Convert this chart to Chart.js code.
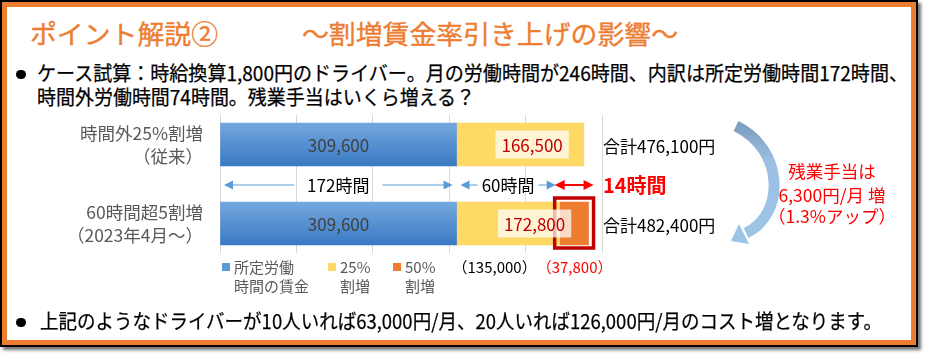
<!DOCTYPE html>
<html lang="ja">
<head>
<meta charset="utf-8">
<script src="https://cdn.jsdelivr.net/npm/chart.js@4.4.0/dist/chart.umd.min.js"></script>
<style>
  html, body { margin: 0; padding: 0; background: #fff; }
  body {
    width: 927px; height: 359px; position: relative; overflow: hidden;
    font-family: "Noto Sans CJK JP", sans-serif;
  }
  .frame {
    position: absolute; left: 0; top: 0; width: 918px; height: 347px;
    box-sizing: border-box; border: 2px solid #000;
    box-shadow: 3px 3px 3px rgba(0, 0, 0, 0.55);
  }
  .frame-in { position: absolute; inset: 0; border: 5px solid #ed7d31; }
  #chart { position: absolute; left: 0; top: 0; }
  .txt { position: absolute; white-space: nowrap; line-height: 1; transform-origin: left center; }
  .title { font-size: 26px; color: #ed7d31; -webkit-text-stroke: 0.35px #ed7d31; }
  .body { font-size: 20px; color: #000; -webkit-text-stroke: 0.25px #000; }
  .note { font-size: 17.5px; color: #ff0000; left: 752px; width: 160px; text-align: center; }
  .dot { position: absolute; width: 9.5px; height: 9.5px; border-radius: 50%; background: #000; }
  svg { position: absolute; left: 0; top: 0; }
</style>
</head>
<body>
<div class="frame"><div class="frame-in"></div></div>

<div class="txt title fit" data-w="188" style="left:30px;top:19.5px">ポイント解説②</div>
<div class="txt title fit" data-w="376" style="left:302px;top:19.5px">～割増賃金率引き上げの影響～</div>

<div class="dot" style="left:16px;top:69.5px"></div>
<div class="txt body fit" data-w="871" style="left:37px;top:63px">ケース試算：時給換算1,800円のドライバー。月の労働時間が246時間、内訳は所定労働時間172時間、</div>
<div class="txt body fit" data-w="438" style="left:37px;top:87px">時間外労働時間74時間。残業手当はいくら増える？</div>

<canvas id="chart" width="927" height="359"></canvas>

<svg width="927" height="359">
  <defs>
    <linearGradient id="curveGrad" x1="0" y1="0" x2="0" y2="1">
      <stop offset="0" stop-color="#7f9fbf"/>
      <stop offset="0.35" stop-color="#9dc0e4"/>
      <stop offset="1" stop-color="#9dc3e6"/>
    </linearGradient>
  </defs>
  <path d="M 736 126 C 785 150, 785 215, 746 233" stroke="url(#curveGrad)" stroke-width="11" fill="none"/>
  <polygon points="731,241 749,244 739,224" fill="#9dc3e6"/>
</svg>

<div class="txt note" style="top:162.3px">残業手当は</div>
<div class="txt note" style="top:186.3px">6,300円/月 増</div>
<div class="txt note" style="top:207.3px">（1.3%アップ）</div>

<div class="dot" style="left:16px;top:317.5px"></div>
<div class="txt body fit" data-w="842" style="left:40px;top:311px">上記のようなドライバーが10人いれば63,000円/月、20人いれば126,000円/月のコスト増となります。</div>

<script>
// ===== Data =====
const categories = [["時間外25%割増", "（従来）"], ["60時間超5割増", "（2023年4月～）"]];
const regularPay = [309600, 309600];
const premium25 = [166500, 135000];
const premium50 = [0, 37800];
const seriesLabels = [["所定労働", "時間の賃金"], ["25%", "割増"], ["50%", "割増"]];
const seriesColors = ["#5b9bd5", "#ffd966", "#ed7d31"];
const hourLabels = ["172時間", "60時間", "14時間"];
const axisMax = 500000;
const axisStep = 100000;

const FONT = "'Noto Sans CJK JP', sans-serif";
const fmt = (v) => v.toLocaleString("en-US");

// ===== Fit text widths =====
document.querySelectorAll(".fit").forEach((el) => {
  const w = el.getBoundingClientRect().width;
  el.style.transform = `scaleX(${el.dataset.w / w})`;
});

// ===== Helpers =====
function arrowHead(ctx, tipX, y, dir, len, half) {
  ctx.beginPath();
  ctx.moveTo(tipX, y);
  ctx.lineTo(tipX - dir * len, y - half);
  ctx.lineTo(tipX - dir * len, y + half);
  ctx.closePath();
  ctx.fill();
}

function hourArrow(ctx, x1, x2, y, label, gap) {
  const cx = (x1 + x2) / 2;
  const tw = ctx.measureText(label).width;
  const l = x1 + 4, r = x2 - 4;
  ctx.strokeStyle = "#5b9bd5";
  ctx.fillStyle = "#5b9bd5";
  ctx.lineWidth = 1.2;
  ctx.beginPath();
  ctx.moveTo(l + 6, y); ctx.lineTo(cx - tw / 2 - gap, y);
  ctx.moveTo(cx + tw / 2 + gap, y); ctx.lineTo(r - 6, y);
  ctx.stroke();
  arrowHead(ctx, l, y, -1, 9, 4.5);
  arrowHead(ctx, r, y, 1, 9, 4.5);
  ctx.fillStyle = "#000";
  ctx.fillText(label, cx, y + 1);
}

// ===== Grid clip: gridlines only a little above and below the bars =====
const gridClip = {
  id: "gridClip",
  beforeDraw(chart) {
    const bars = chart.getDatasetMeta(0).data;
    if (!bars.length) return;
    const a = chart.chartArea;
    const top = bars[0].y - bars[0].height / 2 - 8;
    const last = bars[bars.length - 1];
    const bottom = last.y + last.height / 2 + 8;
    const ctx = chart.ctx;
    ctx.save();
    ctx.beginPath();
    ctx.rect(0, 0, a.left - 1, chart.height);
    ctx.rect(a.left - 1, top, chart.width, bottom - top);
    ctx.clip();
    this._clipped = true;
  },
  beforeDatasetsDraw(chart) {
    if (this._clipped) chart.ctx.restore();
    this._clipped = false;
  },
};

// ===== Annotations plugin =====
const annotations = {
  id: "annotations",
  afterDatasetsDraw(chart) {
    const ctx = chart.ctx;
    const xs = chart.scales.x;
    const area = chart.chartArea;
    const m0 = chart.getDatasetMeta(0);
    const m1 = chart.getDatasetMeta(1);
    const m2 = chart.getDatasetMeta(2);
    ctx.save();
    ctx.textBaseline = "middle";

    // regular pay inside blue bars
    ctx.font = `17px ${FONT}`;
    ctx.textAlign = "center";
    ctx.fillStyle = "#404040";
    m0.data.forEach((bar, i) => ctx.fillText(fmt(regularPay[i]), (bar.base + bar.x) / 2, bar.y + 1));

    // red frame round the 50% part
    m2.data.forEach((bar, i) => {
      if (!premium50[i]) return;
      ctx.strokeStyle = "#c00000";
      ctx.lineWidth = 3.5;
      ctx.strokeRect(bar.base - 5, bar.y - bar.height / 2 - 4, bar.x - bar.base + 10, bar.height + 7);
    });

    // overtime totals on a pale box
    m1.data.forEach((bar, i) => {
      const total = premium25[i] + premium50[i];
      const end = xs.getPixelForValue(regularPay[i] + total);
      const cx = (bar.base + end) / 2 + 12;
      const txt = fmt(total);
      const w = ctx.measureText(txt).width + 12;
      ctx.fillStyle = "rgba(255, 255, 255, 0.72)";
      ctx.fillRect(cx - w / 2, bar.y - 14, w, 28);
      ctx.fillStyle = "#c00000";
      ctx.fillText(txt, cx, bar.y + 1);
    });

    // totals right of the plot
    ctx.textAlign = "left";
    ctx.fillStyle = "#000";
    m0.data.forEach((bar, i) => {
      const sum = regularPay[i] + premium25[i] + premium50[i];
      ctx.fillText(`合計${fmt(sum)}円`, area.right + 1, bar.y + 2);
    });

    // hour arrows between the bars
    const y = (m0.data[0].y + m0.data[1].y) / 2 + 1;
    const p0 = xs.getPixelForValue(0);
    const p1 = xs.getPixelForValue(regularPay[1]);
    const p2 = xs.getPixelForValue(regularPay[1] + premium25[1]);
    const p3 = xs.getPixelForValue(regularPay[1] + premium25[1] + premium50[1]);
    ctx.textAlign = "center";
    hourArrow(ctx, p0, p1, y, hourLabels[0], 13);
    hourArrow(ctx, p1, p2, y, hourLabels[1], 4);
    ctx.strokeStyle = "#ff0000";
    ctx.fillStyle = "#ff0000";
    ctx.lineWidth = 2;
    ctx.beginPath();
    ctx.moveTo(p2 - 2, y); ctx.lineTo(p3 + 1, y);
    ctx.stroke();
    arrowHead(ctx, p2 - 5, y, -1, 10, 5);
    arrowHead(ctx, p3 + 5, y, 1, 10, 5);
    ctx.font = `bold 20px ${FONT}`;
    ctx.textAlign = "left";
    ctx.fillText(hourLabels[2], area.right + 1, y);

    // legend under the plot
    const ly = area.bottom + 4;
    const lx = [area.left + 2, area.left + 108, area.left + 173];
    ctx.font = `15px ${FONT}`;
    seriesLabels.forEach((lines, i) => {
      ctx.fillStyle = seriesColors[i];
      ctx.fillRect(lx[i], ly - 4, 8, 8);
      ctx.fillStyle = "#595959";
      lines.forEach((t, k) => ctx.fillText(t, lx[i] + 12, ly + k * 19));
    });

    // breakdown of the overtime in row two
    const bx = xs.getPixelForValue(regularPay[1]) - 4;
    const t1 = `（${fmt(premium25[1])}）`;
    ctx.fillStyle = "#000";
    ctx.fillText(t1, bx, ly);
    ctx.fillStyle = "#ff0000";
    ctx.fillText(`（${fmt(premium50[1])}）`, bx + ctx.measureText(t1).width, ly);

    ctx.restore();
  },
};

// ===== Chart =====
function blueGradient(c) {
  const ys = c.chart.scales.y;
  if (!ys || c.dataIndex === undefined) return seriesColors[0];
  const cy = ys.getPixelForValue(c.dataIndex);
  if (!isFinite(cy)) return seriesColors[0];
  const g = c.chart.ctx.createLinearGradient(0, cy - 21.5, 0, cy + 21.5);
  g.addColorStop(0, "#74a7df");
  g.addColorStop(1, "#3a7ac3");
  return g;
}

new Chart(document.getElementById("chart"), {
  type: "bar",
  data: {
    labels: categories,
    datasets: [
      { label: seriesLabels[0].join(""), data: regularPay, backgroundColor: blueGradient },
      { label: seriesLabels[1].join(""), data: premium25, backgroundColor: seriesColors[1] },
      { label: seriesLabels[2].join(""), data: premium50, backgroundColor: seriesColors[2] },
    ],
  },
  options: {
    indexAxis: "y",
    responsive: false,
    devicePixelRatio: 1,
    animation: false,
    barThickness: 43,
    layout: { padding: { left: 10, right: 325, top: 105, bottom: 96 } },
    plugins: { legend: { display: false }, tooltip: { enabled: false } },
    scales: {
      x: {
        stacked: true,
        min: 0,
        max: axisMax,
        ticks: { display: false, stepSize: axisStep },
        grid: { color: "#d9d9d9", drawTicks: false },
        border: { display: false },
        afterFit: (s) => { s.height = 0; },
      },
      y: {
        stacked: true,
        grid: { display: false },
        border: { display: false },
        ticks: {
          color: "#595959",
          padding: 9,
          font: { family: FONT, size: 17.5, lineHeight: 1.3 },
        },
        afterFit: (s) => { s.width = 210; },
      },
    },
  },
  plugins: [gridClip, annotations],
});
</script>
</body>
</html>
